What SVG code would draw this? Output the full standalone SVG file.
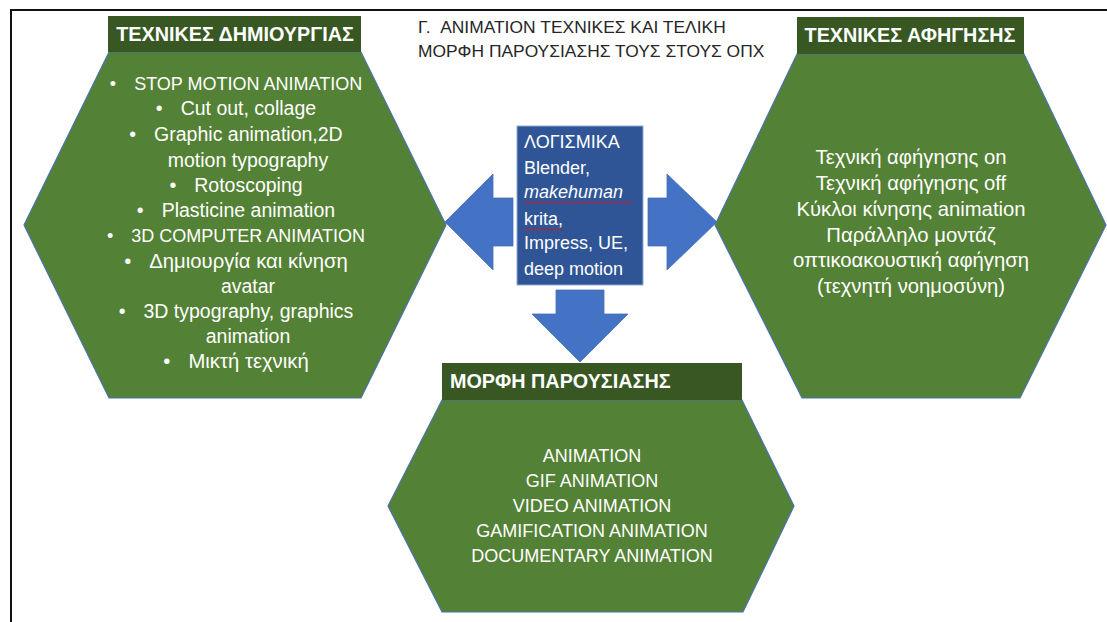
<svg xmlns="http://www.w3.org/2000/svg" width="1107" height="622" viewBox="0 0 1107 622">
<style>
  .hex { fill: #538135; stroke: #4a72b0; stroke-width: 1.2; }
  .hdr { fill: #385723; }
  .hdrtxt { font-family: "Liberation Sans", Arial, sans-serif; font-size: 19.8px; font-weight: bold; fill: #ffffff; }
  .body { font-family: "Liberation Sans", Arial, sans-serif; font-size: 18px; fill: #ffffff; }
  .lc { font-size: 19.5px; }
  .gr { font-size: 20.3px; }
  .mid { text-anchor: middle; }
  .title { font-family: "Liberation Sans", Arial, sans-serif; font-size: 17.4px; fill: #262626; }
  .arrow { fill: #4472c4; stroke: #4a72b0; stroke-width: 0.8; }
  .soft { fill: #2f5597; stroke: #8faadc; stroke-width: 1; }
</style>
<defs>
  <pattern id="wavy" width="4" height="3" patternUnits="userSpaceOnUse">
    <path d="M0 2.4 L2 0.6 L4 2.4" fill="none" stroke="#e01010" stroke-width="0.9"/>
  </pattern>
</defs>
<rect width="1107" height="622" fill="#ffffff"/>
<path d="M11 622 V10 H1107" fill="none" stroke="#111111" stroke-width="2"/>

<g id="title">
  <text class="title" x="418" y="33" xml:space="preserve">Γ.  ANIMATION ΤΕΧΝΙΚΕΣ ΚΑΙ ΤΕΛΙΚΗ</text>
  <text class="title" x="418" y="57">ΜΟΡΦΗ ΠΑΡΟΥΣΙΑΣΗΣ ΤΟΥΣ ΣΤΟΥΣ ΟΠΧ</text>
</g>

<g id="connectors">
  <polygon class="arrow" points="445,222 493,174 493,198 513,198 513,246 493,246 493,270"/>
  <polygon class="arrow" points="648,198 667,198 667,174 717,222 667,270 667,246 648,246"/>
  <polygon class="arrow" points="556,290 604,290 604,314 628,314 580,362 532,314 556,314"/>
</g>

<g id="hex-creation">
  <polygon class="hex" points="109,52 361,52 446,225 361,398 109,398 24,225"/>
  <rect class="hdr" x="108" y="16" width="253" height="36"/>
  <text class="hdrtxt mid" x="235" y="41">ΤΕΧΝΙΚΕΣ ΔΗΜΙΟΥΡΓΙΑΣ</text>
  <text class="body mid" x="236" y="90">•<tspan dx="18">STOP MOTION ANIMATION</tspan></text>
  <text class="body lc mid" x="236" y="115">•<tspan dx="18">Cut out, collage</tspan></text>
  <text class="body lc mid" x="236" y="141">•<tspan dx="18">Graphic animation,2D</tspan></text>
  <text class="body lc mid" x="248" y="167">motion typography</text>
  <text class="body lc mid" x="236" y="192">•<tspan dx="18">Rotoscoping</tspan></text>
  <text class="body lc mid" x="236" y="217">•<tspan dx="18">Plasticine animation</tspan></text>
  <text class="body mid" x="236" y="242">•<tspan dx="18">3D COMPUTER ANIMATION</tspan></text>
  <text class="body gr mid" x="236" y="268">•<tspan dx="18">Δημιουργία και κίνηση</tspan></text>
  <text class="body lc mid" x="248" y="293">avatar</text>
  <text class="body lc mid" x="236" y="318">•<tspan dx="18">3D typography, graphics</tspan></text>
  <text class="body lc mid" x="248" y="343">animation</text>
  <text class="body gr mid" x="236" y="368">•<tspan dx="18">Μικτή τεχνική</tspan></text>
</g>

<g id="hex-narration">
  <polygon class="hex" points="797,54 1024,54 1106,225 1020,398 802,398 715,225"/>
  <rect class="hdr" x="797" y="17" width="227" height="37"/>
  <text class="hdrtxt mid" x="910" y="42">ΤΕΧΝΙΚΕΣ ΑΦΗΓΗΣΗΣ</text>
  <text class="body gr mid" x="911" y="164">Τεχνική αφήγησης on</text>
  <text class="body gr mid" x="911" y="190">Τεχνική αφήγησης off</text>
  <text class="body gr mid" x="911" y="216">Κύκλοι κίνησης animation</text>
  <text class="body gr mid" x="911" y="242">Παράλληλο μοντάζ</text>
  <text class="body gr mid" x="911" y="267">οπτικοακουστική αφήγηση</text>
  <text class="body gr mid" x="911" y="293">(τεχνητή νοημοσύνη)</text>
</g>

<g id="hex-presentation">
  <polygon class="hex" points="442,400 742,400 794,506 743,612 442,612 388,506"/>
  <rect class="hdr" x="442" y="363" width="300" height="37"/>
  <text class="hdrtxt" x="450" y="388">ΜΟΡΦΗ ΠΑΡΟΥΣΙΑΣΗΣ</text>
  <text class="body mid" x="592" y="462">ANIMATION</text>
  <text class="body mid" x="592" y="487">GIF ANIMATION</text>
  <text class="body mid" x="592" y="512">VIDEO ANIMATION</text>
  <text class="body mid" x="592" y="537">GAMIFICATION ANIMATION</text>
  <text class="body mid" x="592" y="562">DOCUMENTARY ANIMATION</text>
</g>

<g id="software">
  <rect class="soft" x="517" y="126" width="126" height="159"/>
  <text class="body" x="524" y="148">ΛΟΓΙΣΜΙΚΑ</text>
  <text class="body" x="524" y="174">Blender,</text>
  <text class="body" x="524" y="198" font-style="italic" font-size="19">makehuman</text>
  <text class="body" x="524" y="225" font-size="19">krita,</text>
  <text class="body" x="524" y="249" font-size="18.5">Impress, UE,</text>
  <text class="body" x="524" y="275" font-size="19.5">deep motion</text>
  <rect x="524" y="201" width="108" height="3" fill="url(#wavy)"/>
  <rect x="524" y="228" width="38" height="3" fill="url(#wavy)"/>
</g>
</svg>
